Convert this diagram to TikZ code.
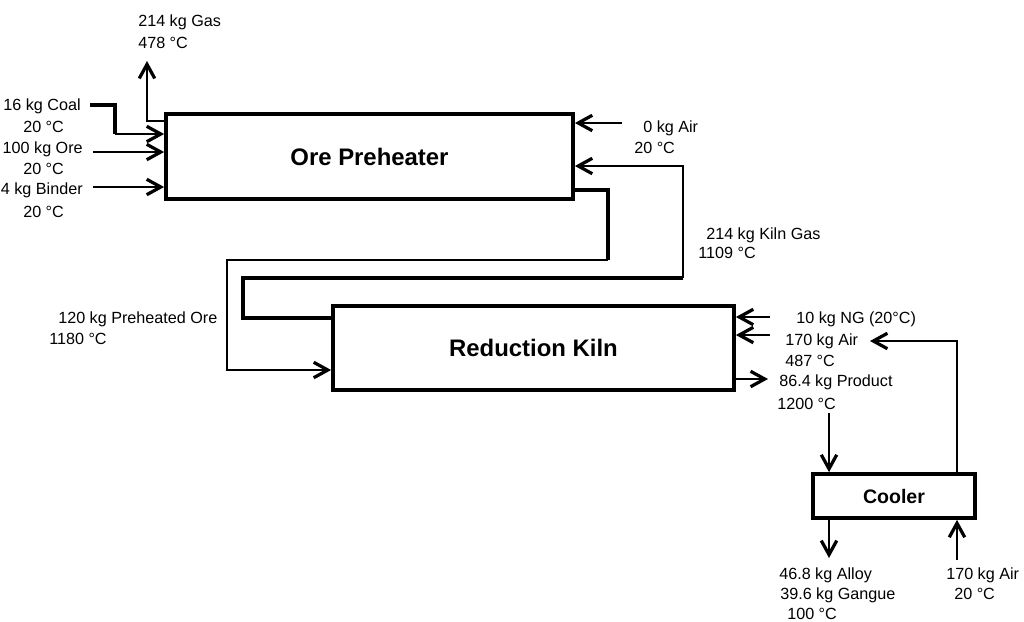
\documentclass[tikz,border=0pt]{standalone}
\usepackage{fontspec}
\setmainfont{Liberation Sans}
\usetikzlibrary{arrows.meta}
\tikzset{
  unit/.style={draw, line width=2.6pt, inner sep=0pt, font=\fontsize{17}{20}\selectfont\bfseries},
  lbl/.style={anchor=base west, inner sep=0pt, font=\fontsize{11.5}{14}\selectfont},
  lblr/.style={lbl, anchor=base east},
  flow/.style={line width=1.7pt},
  thickflow/.style={line width=2.5pt},
  tip/.style={-{Straight Barb[length=10pt,width=11pt,line width=2.3pt]}},
}
\begin{document}
\begin{tikzpicture}[x=0.025cm, y=-0.025cm, line join=miter]
\useasboundingbox (0,0) rectangle (1024,621);
% process units
\node[unit, minimum width=10.175cm, minimum height=2.125cm] (pre) at (369.5,156.5) {Ore Preheater};
\node[unit, minimum width=10.025cm, minimum height=2.1cm] (kiln) at (533.5,348) {Reduction Kiln};
\node[unit, minimum width=4.05cm, minimum height=1.1cm, font=\fontsize{13.9}{16}\selectfont\bfseries] (cool) at (894,496) {Cooler};
% free stream ends
\coordinate (gas) at (147,61);
\coordinate (coal) at (90,105);
\coordinate (ore) at (93,152);
\coordinate (binder) at (93,187);
\coordinate (air0) at (622,123);
\coordinate (ng) at (770,317);
\coordinate (airhot) at (770,335);
\coordinate (prod) at (768,379);
\coordinate (prodin) at (829,413);
\coordinate (airret) at (870,341);
\coordinate (solids) at (829,558);
\coordinate (airin) at (957,560);
% preheater streams
\draw[flow,tip] (pre.west |- 0,121) -| (gas);
\draw[thickflow] (coal) -| (115,134);
\draw[flow,tip] (115,134) -- (pre.west |- 0,134);
\draw[flow,tip] (ore) -- (pre.west |- ore);
\draw[flow,tip] (binder) -- (pre.west |- binder);
\draw[flow,tip] (air0) -- (pre.east |- air0);
% kiln gas to preheater
\draw[thickflow] (kiln.west |- 0,318) -- (243,318) -- (243,278) -- (683,278);
\draw[flow,tip] (683,278) -- (683,166) -- (pre.east |- 0,166);
% preheated ore to kiln
\draw[thickflow] (pre.east |- 0,190) -- (608,190) -- (608,260);
\draw[flow,tip] (608,260) -- (227,260) -- (227,370) -- (kiln.west |- 0,370);
% kiln streams
\draw[flow,tip] (ng) -- (kiln.east |- ng);
\draw[flow,tip] (airhot) -- (kiln.east |- airhot);
\draw[flow,tip] (kiln.east |- prod) -- (prod);
% cooler streams
\draw[flow,tip] (prodin) -- (prodin |- cool.north);
\draw[flow,tip] (957,0 |- cool.north) -- (957,341) -- (airret);
\draw[flow,tip] (prodin |- cool.south) -- (solids);
\draw[flow,tip] (airin) -- (airin |- cool.south);
% labels
\node[lbl] (lgas) at (138,26) {214 kg Gas};
\node[lbl] (lgast) at (138,48) {478 °C};
\node[lblr] (lcoal) at (81,110) {16 kg Coal};
\node[lbl] (lcoalt) at (23,132) {20 °C};
\node[lblr] (lore) at (83,153) {100 kg Ore};
\node[lbl] (loret) at (23,174) {20 °C};
\node[lblr] (lbind) at (83,194) {4 kg Binder};
\node[lbl] (lbindt) at (23,217) {20 °C};
\node[lbl] (lair0) at (643,132) {0 kg Air};
\node[lbl] (lair0t) at (634,153) {20 °C};
\node[lbl] (lkgas) at (706,239) {214 kg Kiln Gas};
\node[lbl] (lkgast) at (698,258) {1109 °C};
\node[lbl] (lpore) at (58,323) {120 kg Preheated Ore};
\node[lbl] (lporet) at (49,344) {1180 °C};
\node[lbl] (lng) at (796,323) {10 kg NG (20°C)};
\node[lbl] (lairhot) at (785,345) {170 kg Air};
\node[lbl] (lairhott) at (785,366) {487 °C};
\node[lbl] (lprod) at (779,386) {86.4 kg Product};
\node[lbl] (lprodt) at (777,409) {1200 °C};
\node[lbl] (lalloy) at (779,579) {46.8 kg Alloy};
\node[lbl] (lgangue) at (780,599) {39.6 kg Gangue};
\node[lbl] (lsolidt) at (787,619) {100 °C};
\node[lbl] (lairin) at (946,579) {170 kg Air};
\node[lbl] (lairint) at (954,599) {20 °C};
\end{tikzpicture}
\end{document}
